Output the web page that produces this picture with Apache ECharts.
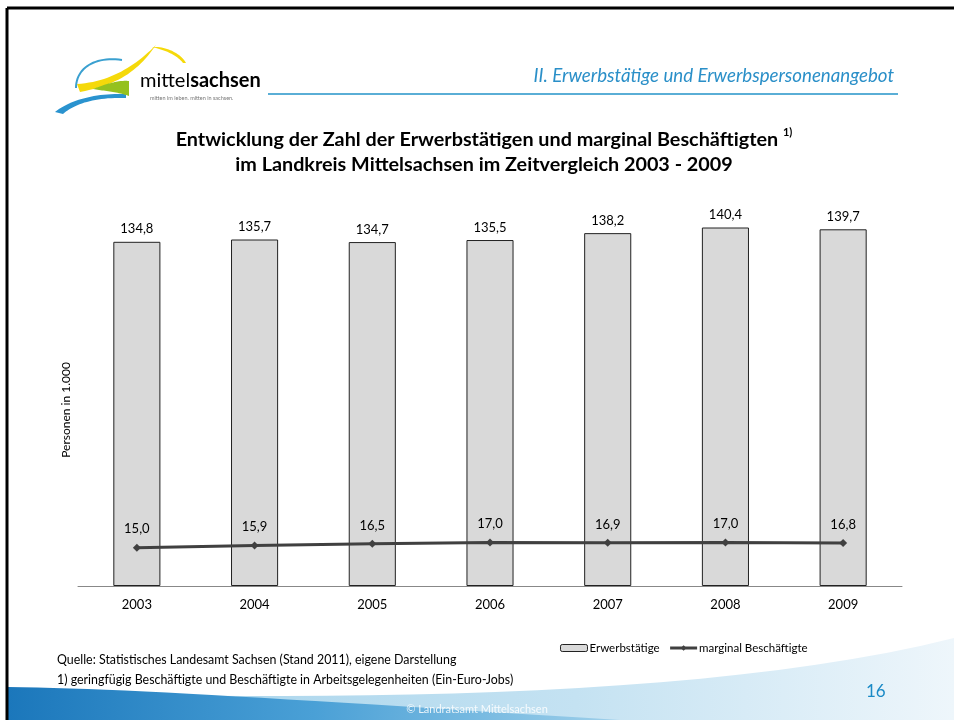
<!DOCTYPE html>
<html>
<head>
<meta charset="utf-8">
<script src="https://cdn.jsdelivr.net/npm/echarts@6/dist/echarts.min.js"></script>
<style>
  html, body { margin: 0; padding: 0; background: #fff; }
  #main { width: 954px; height: 720px; }
</style>
</head>
<body>
<div id="main"></div>
<script>
// chart data
var years = ['2003', '2004', '2005', '2006', '2007', '2008', '2009'];
var erwerbstaetige = [134.8, 135.7, 134.7, 135.5, 138.2, 140.4, 139.7];
var marginal = [15.0, 15.9, 16.5, 17.0, 16.9, 17.0, 16.8];
var seriesNames = ['Erwerbstätige', 'marginal Beschäftigte'];

var FONT = 'Lato';

function komma(p) {
    return p.value.toFixed(1).replace('.', ',');
}

function gradient(stops) {
    return { type: 'linear', x: 0, y: 0, x2: 1, y2: 0, colorStops: stops };
}

// sample a cubic bezier into points (decoration shapes only)
function bez(a, b, c, d) {
    var pts = [];
    for (var i = 0; i <= 24; i++) {
        var t = i / 24, u = 1 - t;
        pts.push([
            u * u * u * a[0] + 3 * u * u * t * b[0] + 3 * u * t * t * c[0] + t * t * t * d[0],
            u * u * u * a[1] + 3 * u * u * t * b[1] + 3 * u * t * t * c[1] + t * t * t * d[1]
        ]);
    }
    return pts;
}

var myChart = echarts.init(document.getElementById('main'));

var option = {
    backgroundColor: '#fff',
    textStyle: { fontFamily: FONT },
    title: {
        text: '{t|Entwicklung der Zahl der Erwerbstätigen und marginal Beschäftigten }{s|1)}\n{t|im Landkreis Mittelsachsen im Zeitvergleich 2003 - 2009}',
        left: 479,
        textAlign: 'center',
        top: 122,
        textStyle: {
            rich: {
                t: { fontFamily: FONT, fontSize: 19.8, fontWeight: 'bold', color: '#000', lineHeight: 25 },
                s: { fontFamily: FONT, fontSize: 11, fontWeight: 'bold', color: '#000', verticalAlign: 'top', lineHeight: 25, padding: [0, 0, 8, 0] }
            }
        }
    },
    legend: {
        left: 560,
        top: 642,
        padding: 0,
        itemWidth: 27,
        itemHeight: 7,
        itemGap: 9,
        textStyle: { fontSize: 11.5, color: '#000', fontFamily: FONT, padding: [0, 0, 0, -3] },
        data: [
            { name: seriesNames[0], itemStyle: { borderWidth: 1, borderColor: '#222' } },
            { name: seriesNames[1], lineStyle: { width: 3, color: '#404040' } }
        ]
    },
    grid: { left: 78, right: 52, top: 203, bottom: 134 },
    xAxis: {
        type: 'category',
        data: years,
        axisLine: { lineStyle: { color: '#888', width: 1 } },
        axisTick: { length: 5, lineStyle: { color: '#888' } },
        axisLabel: { color: '#000', fontSize: 13, margin: 12, fontFamily: FONT }
    },
    yAxis: {
        type: 'value',
        min: 0,
        max: 150,
        show: false
    },
    series: [
        {
            name: seriesNames[0],
            type: 'bar',
            barWidth: '40%',
            data: erwerbstaetige,
            itemStyle: { color: '#d9d9d9', borderColor: '#222', borderWidth: 1 },
            label: { show: true, position: 'top', distance: 6, color: '#000', fontSize: 13, formatter: komma }
        },
        {
            name: seriesNames[1],
            type: 'line',
            data: marginal,
            symbol: 'diamond',
            symbolSize: 8,
            lineStyle: { color: '#404040', width: 3 },
            itemStyle: { color: '#404040' },
            label: { show: true, position: 'top', distance: 8, color: '#000', fontSize: 13, formatter: komma }
        }
    ],
    graphic: [
        // slide frame
        { type: 'line', shape: { x1: 7, y1: 8, x2: 954, y2: 8 }, style: { stroke: '#000', lineWidth: 3 } },
        { type: 'line', shape: { x1: 7, y1: 8, x2: 7, y2: 720 }, style: { stroke: '#000', lineWidth: 3 } },
        // bottom wave
        {
            type: 'polygon', z: -1,
            shape: { points: bez([8, 692], [300, 700], [700, 702], [954, 638]).concat([[954, 720], [8, 720]]) },
            style: { fill: gradient([
                { offset: 0, color: '#9fd0ea' }, { offset: 0.6, color: '#c4e2f2' }, { offset: 1, color: '#eef6fb' }
            ]) }
        },
        {
            type: 'polygon', z: -1,
            shape: { points: bez([8, 687], [120, 688], [300, 700], [620, 720]).concat([[8, 720]]) },
            style: { fill: gradient([
                { offset: 0, color: '#1b77bb' }, { offset: 0.5, color: '#4aa0d6' }, { offset: 1, color: '#9fd0ea' }
            ]) }
        },
        { type: 'text', left: 'center', top: 704, style: { text: '© Landratsamt Mittelsachsen', fill: '#fff', font: '11px ' + FONT, opacity: 0.85 } },
        { type: 'text', left: 866, top: 683, style: { text: '16', fill: '#1a8ac6', font: '17px ' + FONT } },
        // header
        { type: 'line', shape: { x1: 268, y1: 94, x2: 898, y2: 94 }, style: { stroke: '#5aaed6', lineWidth: 2 } },
        { type: 'text', right: 60, top: 66, style: { text: 'II. Erwerbstätige und Erwerbspersonenangebot', fill: '#2a8fc8', font: 'italic 18.7px ' + FONT } },
        // logo
        { type: 'polyline', shape: { points: bez([76, 88], [76, 68], [95, 56], [122, 60]) }, style: { stroke: '#3aa0d0', lineWidth: 2, fill: null } },
        { type: 'polygon', shape: { points: bez([55, 112], [70, 100], [95, 93], [126, 94]).concat(bez([126, 98], [95, 97], [74, 104], [63, 114])) }, style: { fill: '#2a93cf' } },
        { type: 'polygon', shape: { points: bez([77, 84], [110, 82], [135, 66], [156, 45]).concat(bez([156, 45], [140, 68], [122, 84], [80, 92])) }, style: { fill: '#f5d90a' } },
        { type: 'polygon', shape: { points: bez([152, 47], [168, 46], [182, 55], [186, 63]).concat(bez([183, 63], [177, 55], [165, 50], [152, 47])) }, style: { fill: '#f5d90a' } },
        { type: 'polygon', shape: { points: bez([93, 89], [108, 83], [120, 80], [129, 81]).concat(bez([129, 96], [118, 92], [105, 91], [93, 89])) }, style: { fill: '#95c11f' } },
        { type: 'text', left: 140, top: 71, style: { text: '{a|mittel}{b|sachsen}', rich: {
            a: { fontFamily: FONT, fontSize: 20, color: '#3aa0d0' },
            b: { fontFamily: FONT, fontSize: 20, fontWeight: 'bold', color: '#1a7fc0' }
        } } },
        { type: 'text', left: 150, top: 95, style: { text: 'mitten im leben. mitten in sachsen.', fill: '#777', font: '5.5px ' + FONT } },
        // y axis title
        { type: 'text', x: 66, y: 410, rotation: Math.PI / 2, style: { text: 'Personen in 1.000', fill: '#000', font: '12px ' + FONT, align: 'center', verticalAlign: 'middle' } },
        // footnotes
        { type: 'text', left: 57, top: 654, style: { text: 'Quelle: Statistisches Landesamt Sachsen (Stand 2011), eigene Darstellung', fill: '#000', font: '12.4px ' + FONT } },
        { type: 'text', left: 57, top: 674, style: { text: '1) geringfügig Beschäftigte und Beschäftigte in Arbeitsgelegenheiten (Ein-Euro-Jobs)', fill: '#000', font: '12.4px ' + FONT } }
    ]
};

myChart.setOption(option);
</script>
</body>
</html>
